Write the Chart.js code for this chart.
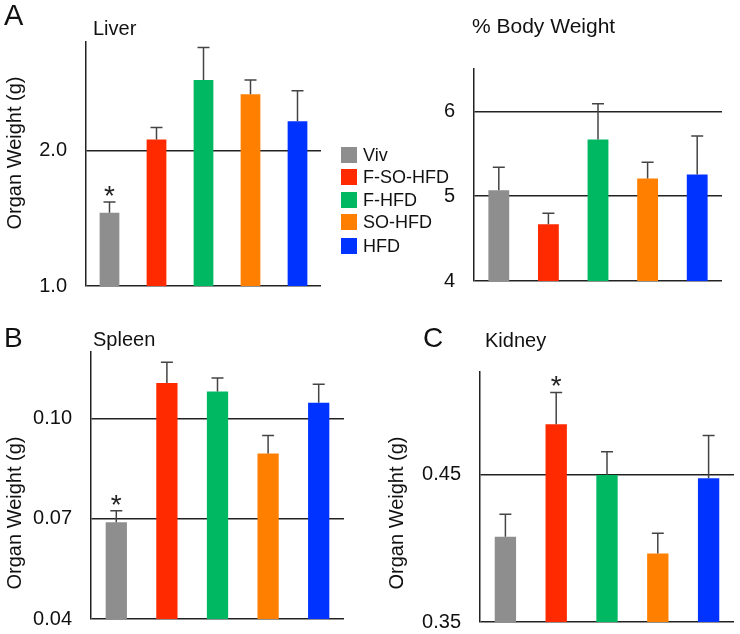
<!DOCTYPE html>
<html>
<head>
<meta charset="utf-8">
<script src="https://cdn.jsdelivr.net/npm/chart.js@4"></script>
<style>
  body { margin: 0; background: #fff; }
  #fig { position: relative; width: 740px; height: 634px; overflow: hidden; font-family: "Liberation Sans", Arial, sans-serif; color: #111; }
  #fig canvas { position: absolute; }
  .txt { position: absolute; line-height: 1; white-space: nowrap; }
  .rot { position: absolute; width: 220px; text-align: center; line-height: 1; white-space: nowrap; transform: rotate(-90deg); }
  .sw { position: absolute; width: 16px; height: 16px; }
</style>
</head>
<body>
<div id="fig">
  <canvas id="liver" width="325" height="300" style="left:0;top:0"></canvas>
  <canvas id="body" width="330" height="300" style="left:400px;top:0"></canvas>
  <canvas id="spleen" width="350" height="314" style="left:0;top:320px"></canvas>
  <canvas id="kidney" width="360" height="314" style="left:380px;top:320px"></canvas>
</div>
<script>
const groups = ['Viv', 'F-SO-HFD', 'F-HFD', 'SO-HFD', 'HFD'];
const colors = ['#8e8e8e', '#ff2a00', '#00b862', '#ff8000', '#0033ff'];

// mean and SEM
const liverMean = [1.54, 2.08, 2.52, 2.415, 2.215];
const liverSem = [0.08, 0.09, 0.24, 0.105, 0.225];
const liverTicks = [1.0, 2.0];

const bodyMean = [5.07, 4.67, 5.67, 5.21, 5.255];
const bodySem = [0.27, 0.13, 0.42, 0.19, 0.455];
const bodyTicks = [4, 5, 6];

const spleenMean = [0.069, 0.1107, 0.1082, 0.0896, 0.1048];
const spleenSem = [0.0034, 0.0062, 0.004, 0.0054, 0.0055];
const spleenTicks = [0.04, 0.07, 0.10];

const kidneyMean = [0.408, 0.4845, 0.450, 0.3966, 0.4477];
const kidneySem = [0.0152, 0.0216, 0.0157, 0.0137, 0.0292];
const kidneyTicks = [0.35, 0.45];

const FONT = '"Liberation Sans", Arial, sans-serif';
const fig = document.getElementById('fig');

function addText(str, x, baseline, size) {
  const d = document.createElement('div');
  d.className = 'txt';
  d.textContent = str;
  d.style.left = x + 'px';
  d.style.top = (baseline - 0.8465 * size) + 'px';
  d.style.fontSize = size + 'px';
  fig.appendChild(d);
}

function addYTitle(str, cx, cy, size) {
  const d = document.createElement('div');
  d.className = 'rot';
  d.textContent = str;
  d.style.fontSize = size + 'px';
  d.style.left = (cx - 110) + 'px';
  d.style.top = (cy - size / 2) + 'px';
  fig.appendChild(d);
}

// error bars (upper whisker only) and significance stars
const errPlugin = {
  id: 'err',
  afterDatasetsDraw(chart, args, opts) {
    const ctx = chart.ctx;
    const ds = chart.data.datasets[0];
    const y = chart.scales.y;
    ctx.save();
    ctx.strokeStyle = '#444';
    ctx.lineWidth = 1.5;
    chart.getDatasetMeta(0).data.forEach((bar, i) => {
      const top = y.getPixelForValue(ds.data[i] + opts.sem[i]);
      ctx.beginPath();
      ctx.moveTo(bar.x, bar.y);
      ctx.lineTo(bar.x, top);
      ctx.moveTo(bar.x - 6, top);
      ctx.lineTo(bar.x + 6, top);
      ctx.stroke();
      if (opts.star === i) {
        ctx.fillStyle = '#222';
        ctx.font = '28px ' + FONT;
        ctx.textAlign = 'center';
        ctx.textBaseline = 'alphabetic';
        ctx.fillText('*', bar.x, top + 3);
      }
    });
    ctx.restore();
  }
};

function makeChart(id, mean, sem, ticks, min, max, digits, axisW, pad, star) {
  return new Chart(document.getElementById(id), {
    type: 'bar',
    data: {
      labels: groups,
      datasets: [{
        data: mean,
        backgroundColor: colors,
        barPercentage: 0.42,
        categoryPercentage: 1
      }]
    },
    options: {
      responsive: false,
      animation: false,
      layout: { padding: pad },
      plugins: {
        legend: { display: false },
        tooltip: { enabled: false },
        err: { sem: sem, star: star }
      },
      scales: {
        x: { display: false },
        y: {
          min: min,
          max: max,
          afterBuildTicks: s => { s.ticks = ticks.map(v => ({ value: v })); },
          afterFit: s => {
            s.width = axisW;
            s.paddingTop = 0;
            s.paddingBottom = 0;
          },
          grid: { color: '#222', lineWidth: 1.5, drawTicks: false },
          border: { color: '#222', width: 1.5 },
          ticks: {
            padding: 19,
            color: '#111',
            font: { size: 20, family: FONT },
            callback: v => Number(v).toFixed(digits)
          }
        }
      }
    },
    plugins: [errPlugin]
  });
}

makeChart('liver', liverMean, liverSem, liverTicks, 1.0, 2.8, 1, 86,
  { top: 42, right: 4, bottom: 14, left: 0 }, 0);
makeChart('body', bodyMean, bodySem, bodyTicks, 4, 6.5, 0, 74,
  { top: 69, right: 8, bottom: 19, left: 0 }, -1);
makeChart('spleen', spleenMean, spleenSem, spleenTicks, 0.04, 0.12, 2, 91,
  { top: 32, right: 6, bottom: 15, left: 0 }, 0);
makeChart('kidney', kidneyMean, kidneySem, kidneyTicks, 0.35, 0.52, 2, 100,
  { top: 52, right: 6, bottom: 12, left: 0 }, 1);

// panel letters and titles
addText('A', 4, 26, 29);
addText('Liver', 93, 35, 20);
addText('% Body Weight', 472, 32.5, 21);
addText('B', 4, 348, 28);
addText('Spleen', 93, 346, 20);
addText('C', 423, 348, 28);
addText('Kidney', 485, 346.5, 20);

addYTitle('Organ Weight (g)', 14, 153, 20);
addYTitle('Organ Weight (g)', 14, 513, 20);
addYTitle('Organ Weight (g)', 396, 513, 20);

// legend
const legendY = [155, 177, 199.5, 222, 245.5];
groups.forEach((g, i) => {
  const sw = document.createElement('div');
  sw.className = 'sw';
  sw.style.left = '341px';
  sw.style.top = (legendY[i] - 8) + 'px';
  sw.style.background = colors[i];
  fig.appendChild(sw);
  addText(g, 363, legendY[i] + 6.5, 18);
});
</script>
</body>
</html>
